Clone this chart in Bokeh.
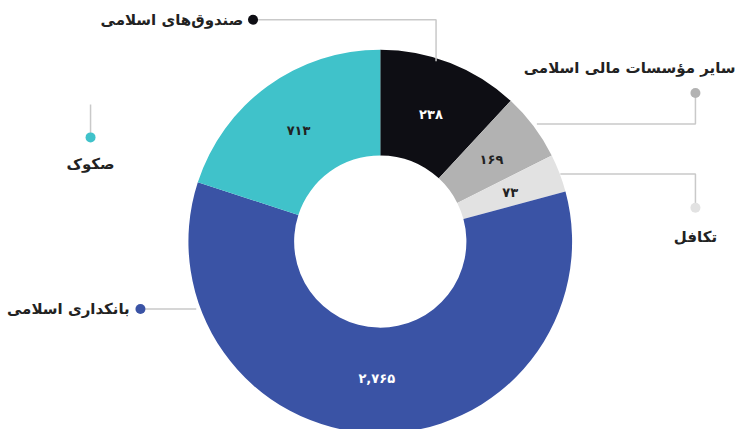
import numpy as np
from bokeh.plotting import figure
from bokeh.models import Range1d, ColumnDataSource
from bokeh.core.properties import value
from bokeh.embed import file_html
from bokeh.resources import INLINE

# ---- data ----
categories = ["صندوق‌های اسلامی", "سایر مؤسسات مالی اسلامی", "تکافل", "بانکداری اسلامی", "صکوک"]
value_labels = ["۲۳۸", "۱۶۹", "۷۳", "۲,۷۶۵", "۷۱۳"]
values = [238, 169, 73, 2765, 713]
# slice shares (percent of the ring) as drawn in the picture
shares = [11.9, 5.7, 3.2, 59.2, 20.0]
colors = ["#0e0e14", "#b2b2b2", "#e2e2e2", "#3a53a5", "#40c2ca"]
value_text_colors = ["#ffffff", "#222222", "#222222", "#ffffff", "#222222"]

# ---- layout (reference-pixel coordinates, y downward negated) ----
W, H = 738, 429
CX, CY = 388, -250
R_OUT, R_IN = 196, 88
R_LBL = 142
FONT = "DejaVu Sans"

p = figure(width=W, height=H, output_backend="svg", toolbar_location=None,
           x_range=Range1d(0, 754), y_range=Range1d(-445, 0),
           min_border=0, outline_line_color=None)
p.axis.visible = False
p.grid.visible = False
p.background_fill_color = "white"
p.border_fill_color = "white"

frac = np.array(shares) / np.sum(shares)
cum = np.cumsum(frac)
prev = np.concatenate([[0.0], cum[:-1]])
start = np.pi / 2 - 2 * np.pi * prev
end = np.pi / 2 - 2 * np.pi * cum
mid = (start + end) / 2

src = ColumnDataSource(dict(start=start, end=end, color=colors,
                            lx=CX + R_LBL * np.cos(mid), ly=CY + R_LBL * np.sin(mid),
                            txt=value_labels, tcol=value_text_colors))
p.annular_wedge(x=CX, y=CY, inner_radius=R_IN, outer_radius=R_OUT,
                start_angle="start", end_angle="end", direction="clock",
                color="color", line_color=None, source=src)
p.text(x="lx", y="ly", text="txt", text_color="tcol", source=src,
       text_font=value(FONT), text_font_size="13px", text_font_style="bold",
       text_align="center", text_baseline="middle")

# ---- leaders (decoration) ----
LEAD = "#c9c9c9"
leaders = [
    ([258, 445, 445], [-20, -20, -63]),
    ([710, 710, 548], [-96, -128, -128]),
    ([710, 710, 572], [-215, -180, -180]),
    ([143, 200], [-320, -320]),
    ([92, 92], [-142, -108]),
]
for xs, ys in leaders:
    p.line(xs, ys, line_color=LEAD, line_width=1.5)

dot_x = [258, 710, 710, 143, 92]
dot_y = [-20, -96, -215, -320, -142]
p.scatter(dot_x, dot_y, size=10, color=colors, line_color=None)

# category labels
lab_x = [248, 751, 710, 132, 92]
lab_y = [-20, -70, -245, -320, -170]
lab_align = ["right", "right", "center", "right", "center"]
for t, x, y, a in zip(categories, lab_x, lab_y, lab_align):
    p.text(x=[x], y=[y], text=[t], text_font=value(FONT), text_font_size="15px",
           text_font_style="bold", text_color="#222222",
           text_align=a, text_baseline="middle")

open("out.html", "w").write(file_html(p, INLINE))
